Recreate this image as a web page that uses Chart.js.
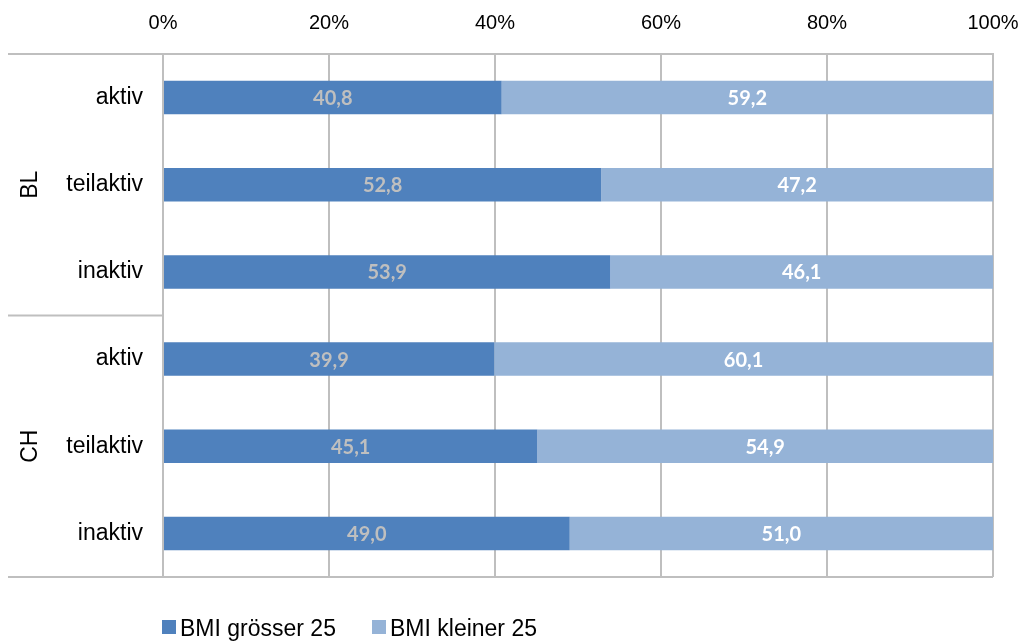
<!DOCTYPE html>
<html>
<head>
<meta charset="utf-8">
<script src="https://cdn.jsdelivr.net/npm/chart.js@4"></script>
<style>
  html, body { margin: 0; padding: 0; background: #fff; }
  #wrap { width: 1024px; height: 642px; position: relative; }
</style>
</head>
<body>
<div id="wrap"><canvas id="myChart"></canvas></div>
<script>
// data
var categories = ["aktiv", "teilaktiv", "inaktiv", "aktiv", "teilaktiv", "inaktiv"];
var groups = ["BL", "CH"];
var groupSize = 3;
var seriesNames = ["BMI grösser 25", "BMI kleiner 25"];
var bmiOver = [40.8, 52.8, 53.9, 39.9, 45.1, 49.0];
var bmiUnder = [59.2, 47.2, 46.1, 60.1, 54.9, 51.0];
var xTicks = [0, 20, 40, 60, 80, 100];

var barColors = ["#4F81BD", "#95B3D7"];
var labelColors = ["#BFBFBF", "#FFFFFF"];
var lineColor = "#BFBFBF";

// value labels in the middle of each segment
var valueLabels = {
  id: "valueLabels",
  afterDatasetsDraw: function (chart) {
    var ctx = chart.ctx;
    ctx.save();
    ctx.font = "bold 20px Lato, 'Open Sans', sans-serif";
    ctx.textAlign = "center";
    ctx.textBaseline = "middle";
    chart.data.datasets.forEach(function (ds, di) {
      var meta = chart.getDatasetMeta(di);
      ctx.fillStyle = labelColors[di];
      meta.data.forEach(function (bar, i) {
        var txt = ds.data[i].toFixed(1).replace(".", ",");
        ctx.fillText(txt, (bar.x + bar.base) / 2, bar.y + 1);
      });
    });
    ctx.restore();
  }
};

// group labels (BL / CH), separator lines and the extended frame
var groupAxis = {
  id: "groupAxis",
  afterDraw: function (chart) {
    var ctx = chart.ctx;
    var area = chart.chartArea;
    var y = chart.scales.y;
    var left = 8;
    ctx.save();
    ctx.strokeStyle = lineColor;
    ctx.lineWidth = 2;
    ctx.beginPath();
    ctx.moveTo(left, area.top);
    ctx.lineTo(area.left, area.top);
    ctx.moveTo(left, area.bottom);
    ctx.lineTo(area.right, area.bottom);
    for (var g = 1; g < groups.length; g++) {
      var sep = y.getPixelForValue(g * groupSize - 0.5);
      ctx.moveTo(left, sep);
      ctx.lineTo(area.left, sep);
    }
    ctx.stroke();

    ctx.fillStyle = "#000";
    ctx.font = "23px 'Liberation Sans', Arial, sans-serif";
    ctx.textAlign = "center";
    ctx.textBaseline = "middle";
    groups.forEach(function (name, g) {
      var mid = y.getPixelForValue(g * groupSize + (groupSize - 1) / 2);
      ctx.save();
      ctx.translate(31, mid);
      ctx.rotate(-Math.PI / 2);
      ctx.fillText(name, 0, 0);
      ctx.restore();
    });

    // legend at the bottom left
    ctx.font = "23px 'Liberation Sans', Arial, sans-serif";
    ctx.textAlign = "left";
    ctx.textBaseline = "alphabetic";
    var lx = 162;
    seriesNames.forEach(function (name, i) {
      ctx.fillStyle = barColors[i];
      ctx.fillRect(lx, 620, 14, 14);
      ctx.fillStyle = "#000";
      ctx.fillText(name, lx + 18, 636);
      lx += 210;
    });
    ctx.restore();
  }
};

var ctx = document.getElementById("myChart").getContext("2d");
var chart = new Chart(ctx, {
  type: "bar",
  data: {
    labels: categories,
    datasets: [
      { label: seriesNames[0], data: bmiOver, backgroundColor: barColors[0] },
      { label: seriesNames[1], data: bmiUnder, backgroundColor: barColors[1] }
    ]
  },
  options: {
    indexAxis: "y",
    responsive: true,
    maintainAspectRatio: false,
    animation: false,
    categoryPercentage: 1,
    barPercentage: 0.385,
    layout: { padding: { left: 0, right: 31, top: 0, bottom: 65 } },
    plugins: {
      legend: { display: false },
      tooltip: { enabled: false }
    },
    scales: {
      x: {
        position: "top",
        stacked: true,
        min: 0,
        max: 100,
        afterBuildTicks: function (scale) {
          scale.ticks = xTicks.map(function (v) { return { value: v }; });
        },
        afterFit: function (scale) {
          scale.height = 54;
          scale.paddingLeft = 0;
          scale.paddingRight = 0;
        },
        grid: { color: lineColor, lineWidth: 2, drawTicks: false },
        border: { color: lineColor, width: 2 },
        ticks: {
          padding: 19,
          color: "#000",
          font: { family: "'Liberation Sans', Arial, sans-serif", size: 20 },
          callback: function (v) { return v + "%"; }
        }
      },
      y: {
        stacked: true,
        afterFit: function (scale) { scale.width = 163; },
        grid: { display: false, drawTicks: false },
        border: { color: lineColor, width: 2 },
        ticks: {
          padding: 20,
          color: "#000",
          font: { family: "'Liberation Sans', Arial, sans-serif", size: 23 }
        }
      }
    }
  },
  plugins: [valueLabels, groupAxis]
});
</script>
</body>
</html>
